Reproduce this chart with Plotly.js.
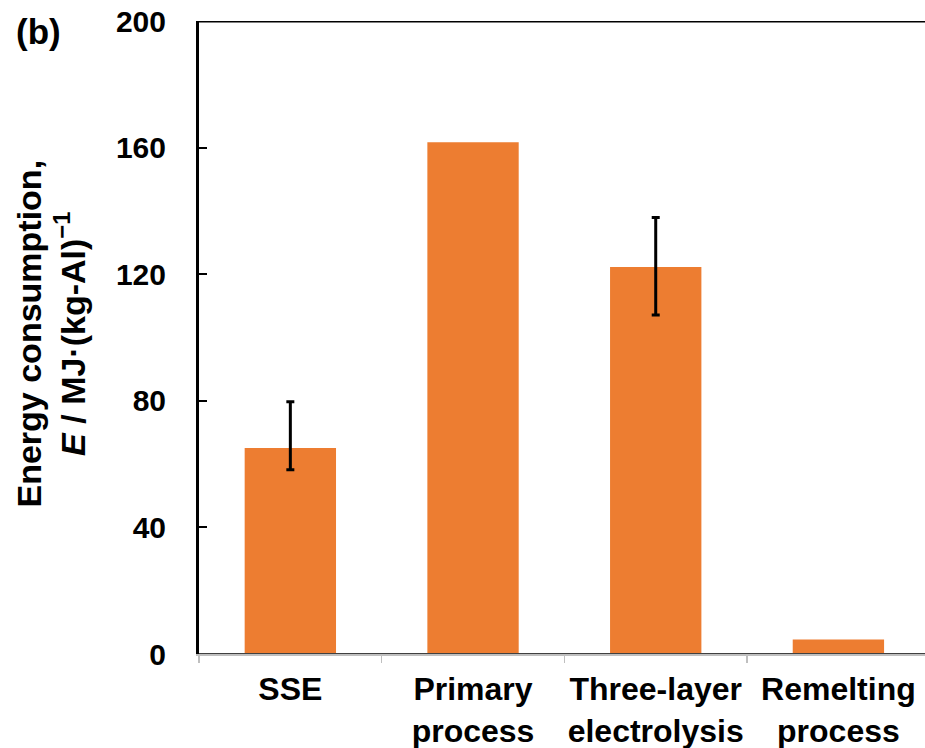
<!DOCTYPE html>
<html>
<head>
<meta charset="utf-8">
<script src="https://cdn.plot.ly/plotly-3.0.1.min.js"></script>
<style>html,body{margin:0;padding:0;background:#fff;}</style>
</head>
<body>
<div id="chart" style="width:925px;height:748px;"></div>
<script>
const categories = ["SSE", "Primary process", "Three-layer electrolysis", "Remelting process"];
const tickLabels = ["SSE", "Primary<br>process", "Three-layer<br>electrolysis", "Remelting<br>process"];
const energy = [65.1, 161.7, 122.3, 4.6];
const errPlus = [14.6, NaN, 15.6, NaN];
const errMinus = [6.9, NaN, 15.2, NaN];
const yTicks = [0, 40, 80, 120, 160, 200];

const fontFam = "Arial, 'Liberation Sans', sans-serif";

const trace = {
  type: "bar",
  x: categories,
  y: energy,
  marker: {color: "#ED7D31", line: {width: 0}},
  error_y: {
    type: "data", symmetric: false,
    array: errPlus, arrayminus: errMinus,
    color: "#000000", thickness: 3, width: 4
  },
  hoverinfo: "none"
};

const layout = {
  width: 925, height: 748,
  margin: {l: 199, r: 0, t: 21, b: 94},
  paper_bgcolor: "#ffffff", plot_bgcolor: "#ffffff",
  showlegend: false,
  bargap: 0.5,
  xaxis: {
    type: "category",
    categoryorder: "array", categoryarray: categories,
    range: [-0.5, 3.474],
    tickmode: "array", tickvals: categories, ticktext: tickLabels,
    tickson: "boundaries", tickangle: 0,
    ticks: "outside", ticklen: 7, tickwidth: 1.5, tickcolor: "#bfbfbf",
    showline: true, linecolor: "#bfbfbf", linewidth: 1.5,
    showgrid: false, zeroline: false,
    ticklabelstandoff: 6,
    tickfont: {family: fontFam, size: 32, color: "#000000", weight: 700}
  },
  yaxis: {
    range: [0, 200],
    tickmode: "array", tickvals: yTicks, ticktext: yTicks.map(String),
    ticks: "inside", ticklen: 8, tickwidth: 2, tickcolor: "#000000",
    showline: true, linecolor: "#000000", linewidth: 3,
    showgrid: false, zeroline: false,
    ticklabelstandoff: 24,
    tickfont: {family: fontFam, size: 30, color: "#000000", weight: 700}
  },
  shapes: [
    {type: "line", xref: "paper", yref: "y", x0: 0, x1: 1, y0: 200, y1: 200,
     line: {color: "#000000", width: 3}},
    {type: "line", xref: "paper", yref: "y", x0: 0, x1: 1, y0: 0, y1: 0,
     line: {color: "#404040", width: 2}}
  ],
  annotations: [
    {text: "Energy consumption,<br><i>E</i> / MJ·(kg-Al)<sup>−1</sup>",
     xref: "paper", yref: "paper", x: 0, y: 0.5, xshift: -149, yshift: 4,
     xanchor: "center", yanchor: "middle", textangle: -90, showarrow: false,
     font: {family: fontFam, size: 34, color: "#000000", weight: 700}},
    {text: "(b)", xref: "paper", yref: "paper", x: 0, y: 1, xshift: -161, yshift: -10,
     xanchor: "center", yanchor: "middle", showarrow: false,
     font: {family: fontFam, size: 35, color: "#000000", weight: 700}}
  ]
};

Plotly.newPlot("chart", [trace], layout, {displayModeBar: false, staticPlot: true});
</script>
</body>
</html>
